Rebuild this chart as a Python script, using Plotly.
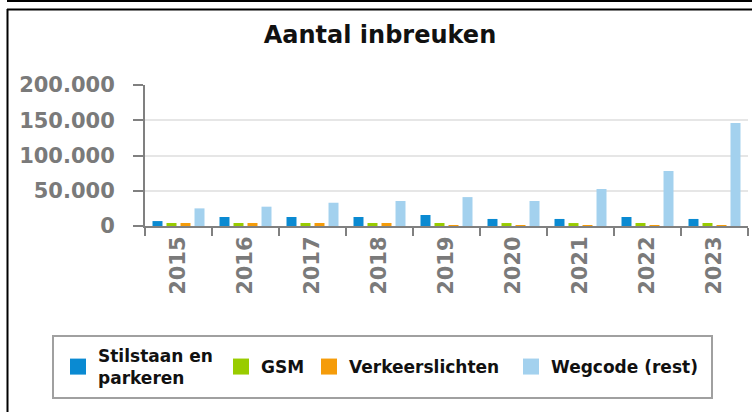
import plotly.graph_objects as go

years = ["2015", "2016", "2017", "2018", "2019", "2020", "2021", "2022", "2023"]
stilstaan = [7000, 12800, 12800, 12800, 15600, 10000, 10000, 12800, 10000]
gsm = [4300, 4300, 4300, 4300, 4300, 4200, 4200, 4300, 4300]
verkeerslichten = [4300, 4300, 4300, 4300, 1200, 1200, 1200, 1200, 1200]
wegcode = [25000, 27400, 33000, 35500, 41000, 35500, 52500, 78000, 146000]

series_names = ["Stilstaan en<br>parkeren", "GSM", "Verkeerslichten", "Wegcode (rest)"]
series_values = [stilstaan, gsm, verkeerslichten, wegcode]
colors = ["#0a8ad2", "#99cc00", "#f59c0a", "#a3d1ee"]
y_ticks = [0, 50000, 100000, 150000, 200000]
y_tick_labels = ["0", "50.000", "100.000", "150.000", "200.000"]

W, H = 752, 412
L, R, T, B = 145, 4, 85, 186
pw = W - L - R
ph = H - T - B

def px(x):
    return (x - L) / pw

def py(y):
    return (H - B - y) / ph

# legend entry symbol centres (pixels) and legend row centre
legend_sym_x = [78, 241, 329, 531]
legend_cy = 367

fig = go.Figure()
legend_ids = ["legend", "legend2", "legend3", "legend4"]
for name, vals, c in zip(series_names, series_values, colors):
    fig.add_trace(go.Bar(x=years, y=vals, name=name, showlegend=False,
                         marker=dict(color=c, line=dict(width=0))))
for name, c, lid in zip(series_names, colors, legend_ids):
    fig.add_trace(go.Scatter(x=[None], y=[None], mode="markers", name=name, legend=lid,
                             marker=dict(symbol="square", size=16, color=c, line=dict(width=0))))

grey = "#808080"
legend_font = dict(family="DejaVu Sans", size=17, color="#111111", weight="bold")
legends = {}
for lid, sx in zip(legend_ids, legend_sym_x):
    legends[lid] = dict(orientation="h", xref="container", yref="container",
                        x=(sx - 20) / W, xanchor="left", y=1 - legend_cy / H, yanchor="middle",
                        borderwidth=0, bgcolor="rgba(0,0,0,0)", font=legend_font,
                        valign="middle", itemclick=False, itemdoubleclick=False)

fig.update_layout(
    width=W, height=H,
    margin=dict(l=L, r=R, t=T, b=B, pad=0, autoexpand=False),
    paper_bgcolor="white", plot_bgcolor="white",
    barmode="group", bargap=0.164, bargroupgap=0.286,
    title=dict(text="<b>Aantal inbreuken</b>", x=380 / W, xanchor="center", xref="container",
               y=1 - 35 / H, yanchor="middle", yref="container",
               font=dict(family="DejaVu Sans", size=24, color="#111111")),
    font=dict(family="DejaVu Sans"),
    showlegend=True,
    **legends,
)
fig.update_xaxes(
    type="category", showline=True, linecolor=grey, linewidth=2,
    ticks="outside", tickson="boundaries", ticklen=8, tickwidth=2, tickcolor=grey,
    tickangle=-90, tickfont=dict(family="DejaVu Sans", size=21, color="#7a7a7a", weight="bold"),
    showgrid=False,
)
fig.update_yaxes(
    range=[0, 200000], tickvals=y_ticks, ticktext=y_tick_labels,
    showline=True, linecolor=grey, linewidth=2,
    ticks="outside", ticklen=10, tickwidth=2, tickcolor=grey,
    ticklabelstandoff=14,
    tickfont=dict(family="DejaVu Sans", size=21, color="#7a7a7a", weight="bold"),
    showgrid=True, gridcolor="#e6e6e6", gridwidth=2, zeroline=False,
)

# frame lines around the chart
line = dict(color="black", width=2)
fig.add_shape(type="line", xref="paper", yref="paper", x0=px(7), x1=px(752), y0=py(1), y1=py(1), line=line)
fig.add_shape(type="line", xref="paper", yref="paper", x0=px(7), x1=px(752), y0=py(9.5), y1=py(9.5), line=line)
fig.add_shape(type="line", xref="paper", yref="paper", x0=px(7.5), x1=px(7.5), y0=py(9), y1=py(412), line=line)
# legend box
fig.add_shape(type="rect", xref="paper", yref="paper", x0=px(53), x1=px(712), y0=py(336), y1=py(398),
              line=dict(color="#a0a0a0", width=2), fillcolor="rgba(0,0,0,0)", layer="below")

fig.write_html("out.html", config={"displayModeBar": False},
               post_script="document.body.style.margin='0';")
